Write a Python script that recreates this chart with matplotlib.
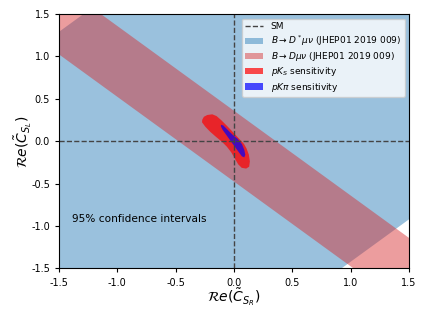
import numpy as np
import matplotlib
matplotlib.use("Agg")
import matplotlib.pyplot as plt
from matplotlib.patches import Patch
from matplotlib.lines import Line2D

plt.rcParams['axes.unicode_minus'] = False

# band limits
# B->D* mu nu : C_SL = C_SR + c,  c in [dstar_lo, dstar_hi]
dstar_lo, dstar_hi = -2.42, 2.79
# B->D mu nu  : C_SL = -C_SR + c, c in [d_lo, d_hi]
d_lo, d_hi = -0.475, 0.36

# 95% contour outlines (pK_S and pK pi)
pks_x = [-0.272, -0.258, -0.229, -0.186, -0.149, -0.110, -0.066, -0.022, 0.015, 0.050,
         0.085, 0.108, 0.127, 0.136, 0.130, 0.104, 0.066, 0.036, 0.006, -0.024,
         -0.061, -0.104, -0.155, -0.204, -0.246, -0.274]
pks_y = [0.254, 0.289, 0.310, 0.318, 0.297, 0.250, 0.190, 0.127, 0.072, 0.021,
         -0.030, -0.086, -0.157, -0.237, -0.300, -0.322, -0.313, -0.272, -0.201, -0.130,
         -0.064, -0.005, 0.053, 0.112, 0.172, 0.224]
pkpi_x = [-0.112, -0.092, -0.055, -0.012, 0.031, 0.068, 0.088, 0.097, 0.088, 0.068,
          0.040, 0.011, -0.026, -0.063, -0.098, -0.112]
pkpi_y = [0.195, 0.187, 0.136, 0.077, 0.030, -0.033, -0.100, -0.159, -0.190, -0.178,
          -0.127, -0.072, -0.002, 0.069, 0.136, 0.175]

lim = 1.5
ticks = [-1.5, -1.0, -0.5, 0.0, 0.5, 1.0, 1.5]

fig = plt.figure(figsize=(4.27, 3.2), dpi=100)
ax = fig.add_axes([0.138, 0.161, 0.82, 0.795])

xx = np.array([-3.0, 3.0])
ax.fill_between(xx, xx + dstar_lo, xx + dstar_hi, color='tab:blue', alpha=0.45, lw=0)
ax.fill_between(xx, -xx + d_lo, -xx + d_hi, color='tab:red', alpha=0.45, lw=0)

ax.fill(pks_x, pks_y, color='red', alpha=0.7, lw=0)
ax.fill(pkpi_x, pkpi_y, color='blue', alpha=0.7, lw=0)

ax.axvline(0, color='#444444', ls='--', lw=1)
ax.axhline(0, color='#444444', ls='--', lw=1)

ax.text(-1.39, -0.92, '95% confidence intervals', fontsize=7.6, va='center')

ax.set_xlim(-lim, lim)
ax.set_ylim(-lim, lim)
ax.set_xticks(ticks)
ax.set_yticks(ticks)
ax.set_xticklabels(['%.1f' % t for t in ticks])
ax.set_yticklabels(['%.1f' % t for t in ticks])
ax.tick_params(labelsize=7, length=3)
ax.set_xlabel(r'$\mathcal{R}e(\tilde{C}_{S_R})$', fontsize=10, labelpad=-1)
ax.set_ylabel(r'$\mathcal{R}e(\tilde{C}_{S_L})$', fontsize=10, labelpad=-2)

handles = [Line2D([], [], color='#444444', ls='--', lw=1),
           Patch(color='tab:blue', alpha=0.45, lw=0),
           Patch(color='tab:red', alpha=0.45, lw=0),
           Patch(color='red', alpha=0.7, lw=0),
           Patch(color='blue', alpha=0.7, lw=0)]
labels = ['SM',
          r'$B\to D^*\mu\nu$ (JHEP01 2019 009)',
          r'$B\to D\mu\nu$ (JHEP01 2019 009)',
          r'$pK_S$ sensitivity',
          r'$pK\pi$ sensitivity']
ax.legend(handles, labels, loc='upper right', fontsize=6.5, labelspacing=0.25)

fig.savefig('out.png', dpi=100)
